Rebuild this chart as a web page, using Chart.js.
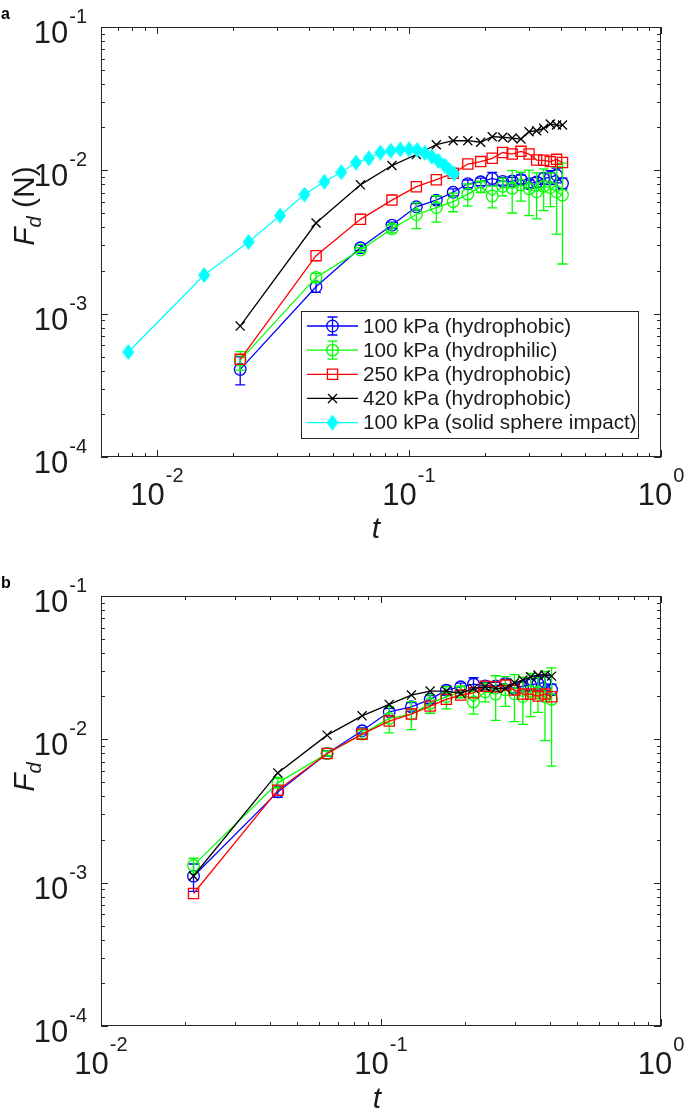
<!DOCTYPE html>
<html>
<head>
<meta charset="utf-8">
<script src="https://cdn.jsdelivr.net/npm/chart.js@4/dist/chart.umd.min.js"></script>
<style>
  body { margin: 0; background: #fff; }
  .panel { position: absolute; left: 0; width: 685px; }
  #wrapA { top: 0; height: 545px; }
  #wrapB { top: 545px; height: 564px; }
</style>
</head>
<body>
<div class="panel" id="wrapA"><canvas id="chartA"></canvas></div>
<div class="panel" id="wrapB"><canvas id="chartB"></canvas></div>
<script>
// time (dimensionless)
const tBubble = [0.0214, 0.0428, 0.0642, 0.0856, 0.107, 0.1284, 0.1498, 0.1712, 0.1926, 0.214,
  0.2354, 0.2568, 0.2782, 0.2996, 0.321, 0.3424, 0.3638, 0.3852, 0.4066];
const tSphere = [0.0077, 0.0154, 0.0231, 0.0308, 0.0385, 0.0462, 0.0539, 0.0616, 0.0693, 0.077,
  0.0847, 0.0924, 0.1001, 0.1078, 0.1155, 0.1232, 0.1309, 0.1386, 0.1445, 0.151];

// panel a : F_d (N)
const fdA_phobic100 = [4.09e-4, 1.54e-3, 2.88e-3, 4.15e-3, 5.57e-3, 6.20e-3, 7.03e-3, 8.06e-3, 8.32e-3, 8.79e-3,
  8.38e-3, 8.42e-3, 8.65e-3, 8.06e-3, 8.29e-3, 8.79e-3, 8.94e-3, 9.27e-3, 8.11e-3];
const errA_phobic100 = [0.9e-4, 1.3e-4, 1.2e-4, 2e-4, 3e-4, 4e-4, 4e-4, 5e-4, 5e-4, 9e-4,
  5e-4, 5e-4, 6e-4, 5e-4, 6e-4, 8e-4, 1e-3, 1.1e-3, 7e-4];
const fdA_philic100 = [4.74e-4, 1.79e-3, 2.78e-3, 3.91e-3, 4.92e-3, 5.50e-3, 6.04e-3, 6.83e-3, 7.69e-3, 6.62e-3,
  7.73e-3, 7.49e-3, 7.90e-3, 7.43e-3, 7.09e-3, 7.73e-3, 7.59e-3, 7.09e-3, 6.72e-3];
const errA_philic100 = [0.7e-4, 1.2e-4, 1e-4, 2.5e-4, 1.0e-3, 1.15e-3, 0.9e-3, 1.2e-3, 0.7e-3, 1.15e-3,
  1.1e-3, 2.45e-3, 1.8e-3, 2.6e-3, 2.5e-3, 2.5e-3, 2e-3, 3.5e-3, 4.5e-3];
const fdA_phobic250 = [4.80e-4, 2.54e-3, 4.55e-3, 6.20e-3, 7.69e-3, 8.60e-3, 9.53e-3, 1.107e-2, 1.151e-2, 1.213e-2,
  1.331e-2, 1.299e-2, 1.357e-2, 1.299e-2, 1.180e-2, 1.175e-2, 1.151e-2, 1.193e-2, 1.133e-2];
const fdA_phobic420 = [8.19e-4, 4.29e-3, 7.92e-3, 1.080e-2, 1.289e-2, 1.509e-2, 1.609e-2, 1.609e-2, 1.570e-2, 1.716e-2,
  1.702e-2, 1.680e-2, 1.653e-2, 1.860e-2, 1.889e-2, 1.963e-2, 2.104e-2, 2.07e-2, 2.07e-2];
const fdA_sphere = [5.4e-4, 1.86e-3, 3.16e-3, 4.84e-3, 6.78e-3, 8.32e-3, 9.70e-3, 1.133e-2, 1.215e-2, 1.331e-2,
  1.37e-2, 1.40e-2, 1.40e-2, 1.386e-2, 1.324e-2, 1.246e-2, 1.165e-2, 1.08e-2, 1.01e-2, 9.48e-3];

// panel b : F_d (dimensionless)
const fdB_phobic100 = [1.11e-3, 4.30e-3, 7.97e-3, 1.147e-2, 1.556e-2, 1.686e-2, 1.90e-2, 2.206e-2, 2.326e-2, 2.43e-2,
  2.36e-2, 2.36e-2, 2.45e-2, 2.25e-2, 2.35e-2, 2.40e-2, 2.45e-2, 2.50e-2, 2.23e-2];
const errB_phobic100 = [2.4e-4, 3.7e-4, 3.4e-4, 5.7e-4, 8.6e-4, 1.15e-3, 1.15e-3, 1.4e-3, 1.4e-3, 2.6e-3,
  1.4e-3, 1.4e-3, 1.7e-3, 1.4e-3, 1.7e-3, 2.3e-3, 2.9e-3, 3.2e-3, 2.0e-3];
const fdB_philic100 = [1.32e-3, 4.97e-3, 7.97e-3, 1.087e-2, 1.40e-2, 1.50e-2, 1.78e-2, 1.98e-2, 2.147e-2, 1.827e-2,
  2.147e-2, 2.068e-2, 2.22e-2, 2.08e-2, 1.99e-2, 2.16e-2, 2.12e-2, 1.98e-2, 1.90e-2];
const errB_philic100 = [1.6e-4, 3.5e-4, 2.9e-4, 7.2e-4, 2.9e-3, 3.3e-3, 2.6e-3, 3.5e-3, 2.0e-3, 3.3e-3,
  3.2e-3, 7.1e-3, 5.2e-3, 7.5e-3, 7.2e-3, 7.2e-3, 5.8e-3, 1.0e-2, 1.25e-2];
const fdB_phobic250 = [8.4e-4, 4.42e-3, 7.97e-3, 1.087e-2, 1.34e-2, 1.50e-2, 1.705e-2, 1.90e-2, 2.035e-2, 2.112e-2,
  2.35e-2, 2.326e-2, 2.39e-2, 2.206e-2, 2.068e-2, 2.068e-2, 2.003e-2, 2.068e-2, 1.98e-2];
const fdB_phobic420 = [1.113e-3, 5.83e-3, 1.070e-2, 1.459e-2, 1.753e-2, 2.035e-2, 2.171e-2, 2.171e-2, 2.092e-2, 2.267e-2,
  2.326e-2, 2.267e-2, 2.267e-2, 2.48e-2, 2.59e-2, 2.73e-2, 2.81e-2, 2.81e-2, 2.76e-2];

const seriesLabels = ['100 kPa (hydrophobic)', '100 kPa (hydrophilic)', '250 kPa (hydrophobic)',
  '420 kPa (hydrophobic)', '100 kPa (solid sphere impact)'];
const xTicksA = [0.01, 0.1, 1];
const xTicksB = [0.01, 0.1, 1];
const xTickExps = ['-2', '-1', '0'];
const yTicks = [1e-4, 1e-3, 1e-2, 1e-1];
const yTickExps = ['-4', '-3', '-2', '-1'];

const FONT = '"Liberation Sans", Arial, Helvetica, sans-serif';
const AXIS = '#262626';
const TXT = '#1e1a1a';

// tall matlab style diamond
const diamond = document.createElement('canvas');
diamond.width = 12; diamond.height = 16;
(function () {
  const c = diamond.getContext('2d');
  c.fillStyle = '#00ffff';
  c.beginPath();
  c.moveTo(6, 0); c.lineTo(12, 8); c.lineTo(6, 16); c.lineTo(0, 8);
  c.closePath(); c.fill();
})();

const markerSize = { circle: 5.8, rect: 7.2, crossRot: 6.4 };

function series(label, xs, ys, color, style, errs, order) {
  return {
    label: label,
    data: xs.map((x, i) => ({ x: x, y: ys[i] })),
    errors: errs || null,
    borderColor: color,
    backgroundColor: color,
    borderWidth: 1.3,
    pointStyle: style,
    pointRadius: style === diamond ? 8 : markerSize[style],
    pointBorderColor: color,
    pointBackgroundColor: 'rgba(0,0,0,0)',
    pointBorderWidth: 1.3,
    pointHoverRadius: 0,
    tension: 0,
    order: order,
  };
}

function drawMarker(ctx, style, color, x, y) {
  ctx.save();
  ctx.strokeStyle = color;
  ctx.lineWidth = 1.3;
  ctx.beginPath();
  if (style === 'circle') {
    ctx.arc(x, y, markerSize.circle, 0, Math.PI * 2);
    ctx.stroke();
  } else if (style === 'rect') {
    const s = markerSize.rect * Math.SQRT1_2;
    ctx.rect(x - s, y - s, 2 * s, 2 * s);
    ctx.stroke();
  } else if (style === 'crossRot') {
    const s = markerSize.crossRot * Math.SQRT1_2;
    ctx.moveTo(x - s, y - s); ctx.lineTo(x + s, y + s);
    ctx.moveTo(x - s, y + s); ctx.lineTo(x + s, y - s);
    ctx.stroke();
  } else {
    ctx.drawImage(style, x - style.width / 2, y - style.height / 2);
  }
  ctx.restore();
}

function powLabel(ctx, exp, x, yBase, ySup, align) {
  ctx.font = '31px ' + FONT;
  const w1 = ctx.measureText('10').width;
  ctx.font = '20px ' + FONT;
  const w2 = ctx.measureText(exp).width;
  const total = w1 + w2 + 1;
  const x0 = align === 'center' ? x - total / 2 : x - total;
  ctx.textAlign = 'left';
  ctx.textBaseline = 'alphabetic';
  ctx.font = '31px ' + FONT;
  ctx.fillText('10', x0, yBase);
  ctx.font = '20px ' + FONT;
  ctx.fillText(exp, x0 + w1 + 1, ySup);
}

function logTicks(min, max) {
  const out = [];
  for (let d = Math.floor(Math.log10(min)); d <= Math.ceil(Math.log10(max)); d++) {
    for (let m = 1; m <= 9; m++) {
      const v = m * Math.pow(10, d);
      if (v >= min * 0.999 && v <= max * 1.001) out.push({ v: v, major: m === 1 });
    }
  }
  return out;
}

const errorBars = {
  id: 'errorBars',
  afterDatasetDraw(chart, args) {
    const ds = chart.data.datasets[args.index];
    if (!ds.errors) return;
    const ctx = chart.ctx;
    const ys = chart.scales.y;
    const area = chart.chartArea;
    ctx.save();
    ctx.beginPath();
    ctx.rect(area.left, area.top, area.width, area.height);
    ctx.clip();
    ctx.strokeStyle = ds.borderColor;
    ctx.lineWidth = 1.3;
    args.meta.data.forEach((pt, i) => {
      const v = ds.data[i].y, e = ds.errors[i];
      const yTop = ys.getPixelForValue(v + e);
      const yBot = v - e > 0 ? ys.getPixelForValue(v - e) : area.bottom + 5;
      ctx.beginPath();
      ctx.moveTo(pt.x, yTop); ctx.lineTo(pt.x, yBot);
      ctx.moveTo(pt.x - 5, yTop); ctx.lineTo(pt.x + 5, yTop);
      ctx.moveTo(pt.x - 5, yBot); ctx.lineTo(pt.x + 5, yBot);
      ctx.stroke();
    });
    ctx.restore();
  }
};

const matlabAxes = {
  id: 'matlabAxes',
  afterDraw(chart, args, opts) {
    const ctx = chart.ctx;
    const a = chart.chartArea;
    const xs = chart.scales.x, ys = chart.scales.y;
    ctx.save();
    // box
    ctx.strokeStyle = AXIS;
    ctx.lineWidth = 1;
    ctx.strokeRect(Math.round(a.left) + 0.5, Math.round(a.top) + 0.5,
      Math.round(a.width) - 1, Math.round(a.height) - 1);
    // inward ticks on all four sides
    ctx.beginPath();
    logTicks(xs.min, xs.max).forEach(t => {
      const px = Math.round(xs.getPixelForValue(t.v)) + 0.5;
      const len = t.major ? 7 : 4;
      ctx.moveTo(px, a.bottom); ctx.lineTo(px, a.bottom - len);
      ctx.moveTo(px, a.top); ctx.lineTo(px, a.top + len);
    });
    logTicks(ys.min, ys.max).forEach(t => {
      const py = Math.round(ys.getPixelForValue(t.v)) + 0.5;
      const len = t.major ? 7 : 4;
      ctx.moveTo(a.left, py); ctx.lineTo(a.left + len, py);
      ctx.moveTo(a.right, py); ctx.lineTo(a.right - len, py);
    });
    ctx.stroke();
    // tick labels
    ctx.fillStyle = TXT;
    opts.xTicks.forEach((v, i) => {
      powLabel(ctx, xTickExps[i], xs.getPixelForValue(v), a.bottom + 48, a.bottom + 25, 'center');
    });
    yTicks.forEach((v, i) => {
      const py = ys.getPixelForValue(v);
      powLabel(ctx, yTickExps[i], a.left - 14, py + 16, py - 4, 'right');
    });
    // x title
    ctx.font = 'italic 30px ' + FONT;
    ctx.textAlign = 'center';
    ctx.textBaseline = 'alphabetic';
    ctx.fillText('t', opts.xTitleX, a.bottom + opts.xTitleDy);
    // y title, rotated
    ctx.save();
    ctx.translate(opts.yTitleX, opts.yTitleY);
    ctx.rotate(-Math.PI / 2);
    ctx.textAlign = 'left';
    ctx.font = 'italic 30px ' + FONT;
    const wF = ctx.measureText('F').width;
    ctx.font = 'italic 20px ' + FONT;
    const wd = ctx.measureText('d').width;
    ctx.font = '30px ' + FONT;
    const wU = opts.yUnit ? ctx.measureText(opts.yUnit).width : 0;
    let x0 = -(wF + wd + wU) / 2;
    ctx.font = 'italic 30px ' + FONT;
    ctx.fillText('F', x0, 0);
    ctx.font = 'italic 20px ' + FONT;
    ctx.fillText('d', x0 + wF, 7);
    if (opts.yUnit) {
      ctx.font = '30px ' + FONT;
      ctx.fillText(opts.yUnit, x0 + wF + wd, 0);
    }
    ctx.restore();
    // panel letter
    ctx.font = 'bold 16px ' + FONT;
    ctx.textAlign = 'left';
    ctx.fillStyle = '#000';
    ctx.fillText(opts.letter, 1, opts.letterY);
    // legend
    if (opts.legend) {
      const L = opts.legend;
      ctx.fillStyle = '#fff';
      ctx.fillRect(L.left, L.top, L.right - L.left, L.bottom - L.top);
      ctx.strokeStyle = AXIS;
      ctx.lineWidth = 1;
      ctx.strokeRect(L.left + 0.5, L.top + 0.5, L.right - L.left, L.bottom - L.top);
      L.order.forEach((di, row) => {
        const ds = chart.data.datasets[di];
        const y = L.top + 15 + row * 24.15;
        ctx.strokeStyle = ds.borderColor;
        ctx.lineWidth = 1.3;
        ctx.beginPath();
        ctx.moveTo(L.left + 6, y); ctx.lineTo(L.left + 57, y);
        const mx = L.left + 31.5;
        if (ds.errors) {
          ctx.moveTo(mx, y - 9); ctx.lineTo(mx, y + 9);
          ctx.moveTo(mx - 5, y - 9); ctx.lineTo(mx + 5, y - 9);
          ctx.moveTo(mx - 5, y + 9); ctx.lineTo(mx + 5, y + 9);
        }
        ctx.stroke();
        drawMarker(ctx, ds.pointStyle, ds.borderColor, mx, y);
        ctx.fillStyle = TXT;
        ctx.font = '20.7px ' + FONT;
        ctx.textBaseline = 'middle';
        ctx.fillText(ds.label, L.left + 62, y + 1);
        ctx.textBaseline = 'alphabetic';
      });
    }
    ctx.restore();
  }
};

function baseOptions(xMin, pad, axesOpts) {
  return {
    responsive: true,
    maintainAspectRatio: false,
    animation: false,
    events: [],
    layout: { padding: pad },
    scales: {
      x: { type: 'logarithmic', min: xMin, max: 1, display: false },
      y: { type: 'logarithmic', min: 1e-4, max: 1e-1, display: false },
    },
    plugins: {
      legend: { display: false },
      tooltip: { enabled: false },
      matlabAxes: axesOpts,
    },
  };
}

new Chart(document.getElementById('chartA'), {
  type: 'line',
  data: {
    datasets: [
      series(seriesLabels[0], tBubble, fdA_phobic100, '#0000ff', 'circle', errA_phobic100, 5),
      series(seriesLabels[1], tBubble, fdA_philic100, '#00ff00', 'circle', errA_philic100, 4),
      series(seriesLabels[2], tBubble, fdA_phobic250, '#ff0000', 'rect', null, 3),
      series(seriesLabels[3], tBubble, fdA_phobic420, '#000000', 'crossRot', null, 2),
      series(seriesLabels[4], tSphere, fdA_sphere, '#00ffff', diamond, null, 1),
    ],
  },
  options: baseOptions(0.006, { left: 101, top: 27, right: 24, bottom: 88 }, {
    xTicks: xTicksA, xTitleX: 376, xTitleDy: 81,
    yTitleX: 34, yTitleY: 206, yUnit: ' (N)',
    letter: 'a', letterY: 19,
    legend: { left: 301, top: 311, right: 638, bottom: 438, order: [0, 1, 2, 3, 4] },
  }),
  plugins: [errorBars, matlabAxes],
});

new Chart(document.getElementById('chartB'), {
  type: 'line',
  data: {
    datasets: [
      series(seriesLabels[0], tBubble, fdB_phobic100, '#0000ff', 'circle', errB_phobic100, 4),
      series(seriesLabels[1], tBubble, fdB_philic100, '#00ff00', 'circle', errB_philic100, 3),
      series(seriesLabels[2], tBubble, fdB_phobic250, '#ff0000', 'rect', null, 2),
      series(seriesLabels[3], tBubble, fdB_phobic420, '#000000', 'crossRot', null, 1),
    ],
  },
  options: baseOptions(0.01, { left: 101, top: 51, right: 24, bottom: 83 }, {
    xTicks: xTicksB, xTitleX: 377, xTitleDy: 82,
    yTitleX: 34, yTitleY: 232, yUnit: '',
    letter: 'b', letterY: 43,
    legend: null,
  }),
  plugins: [errorBars, matlabAxes],
});
</script>
</body>
</html>
